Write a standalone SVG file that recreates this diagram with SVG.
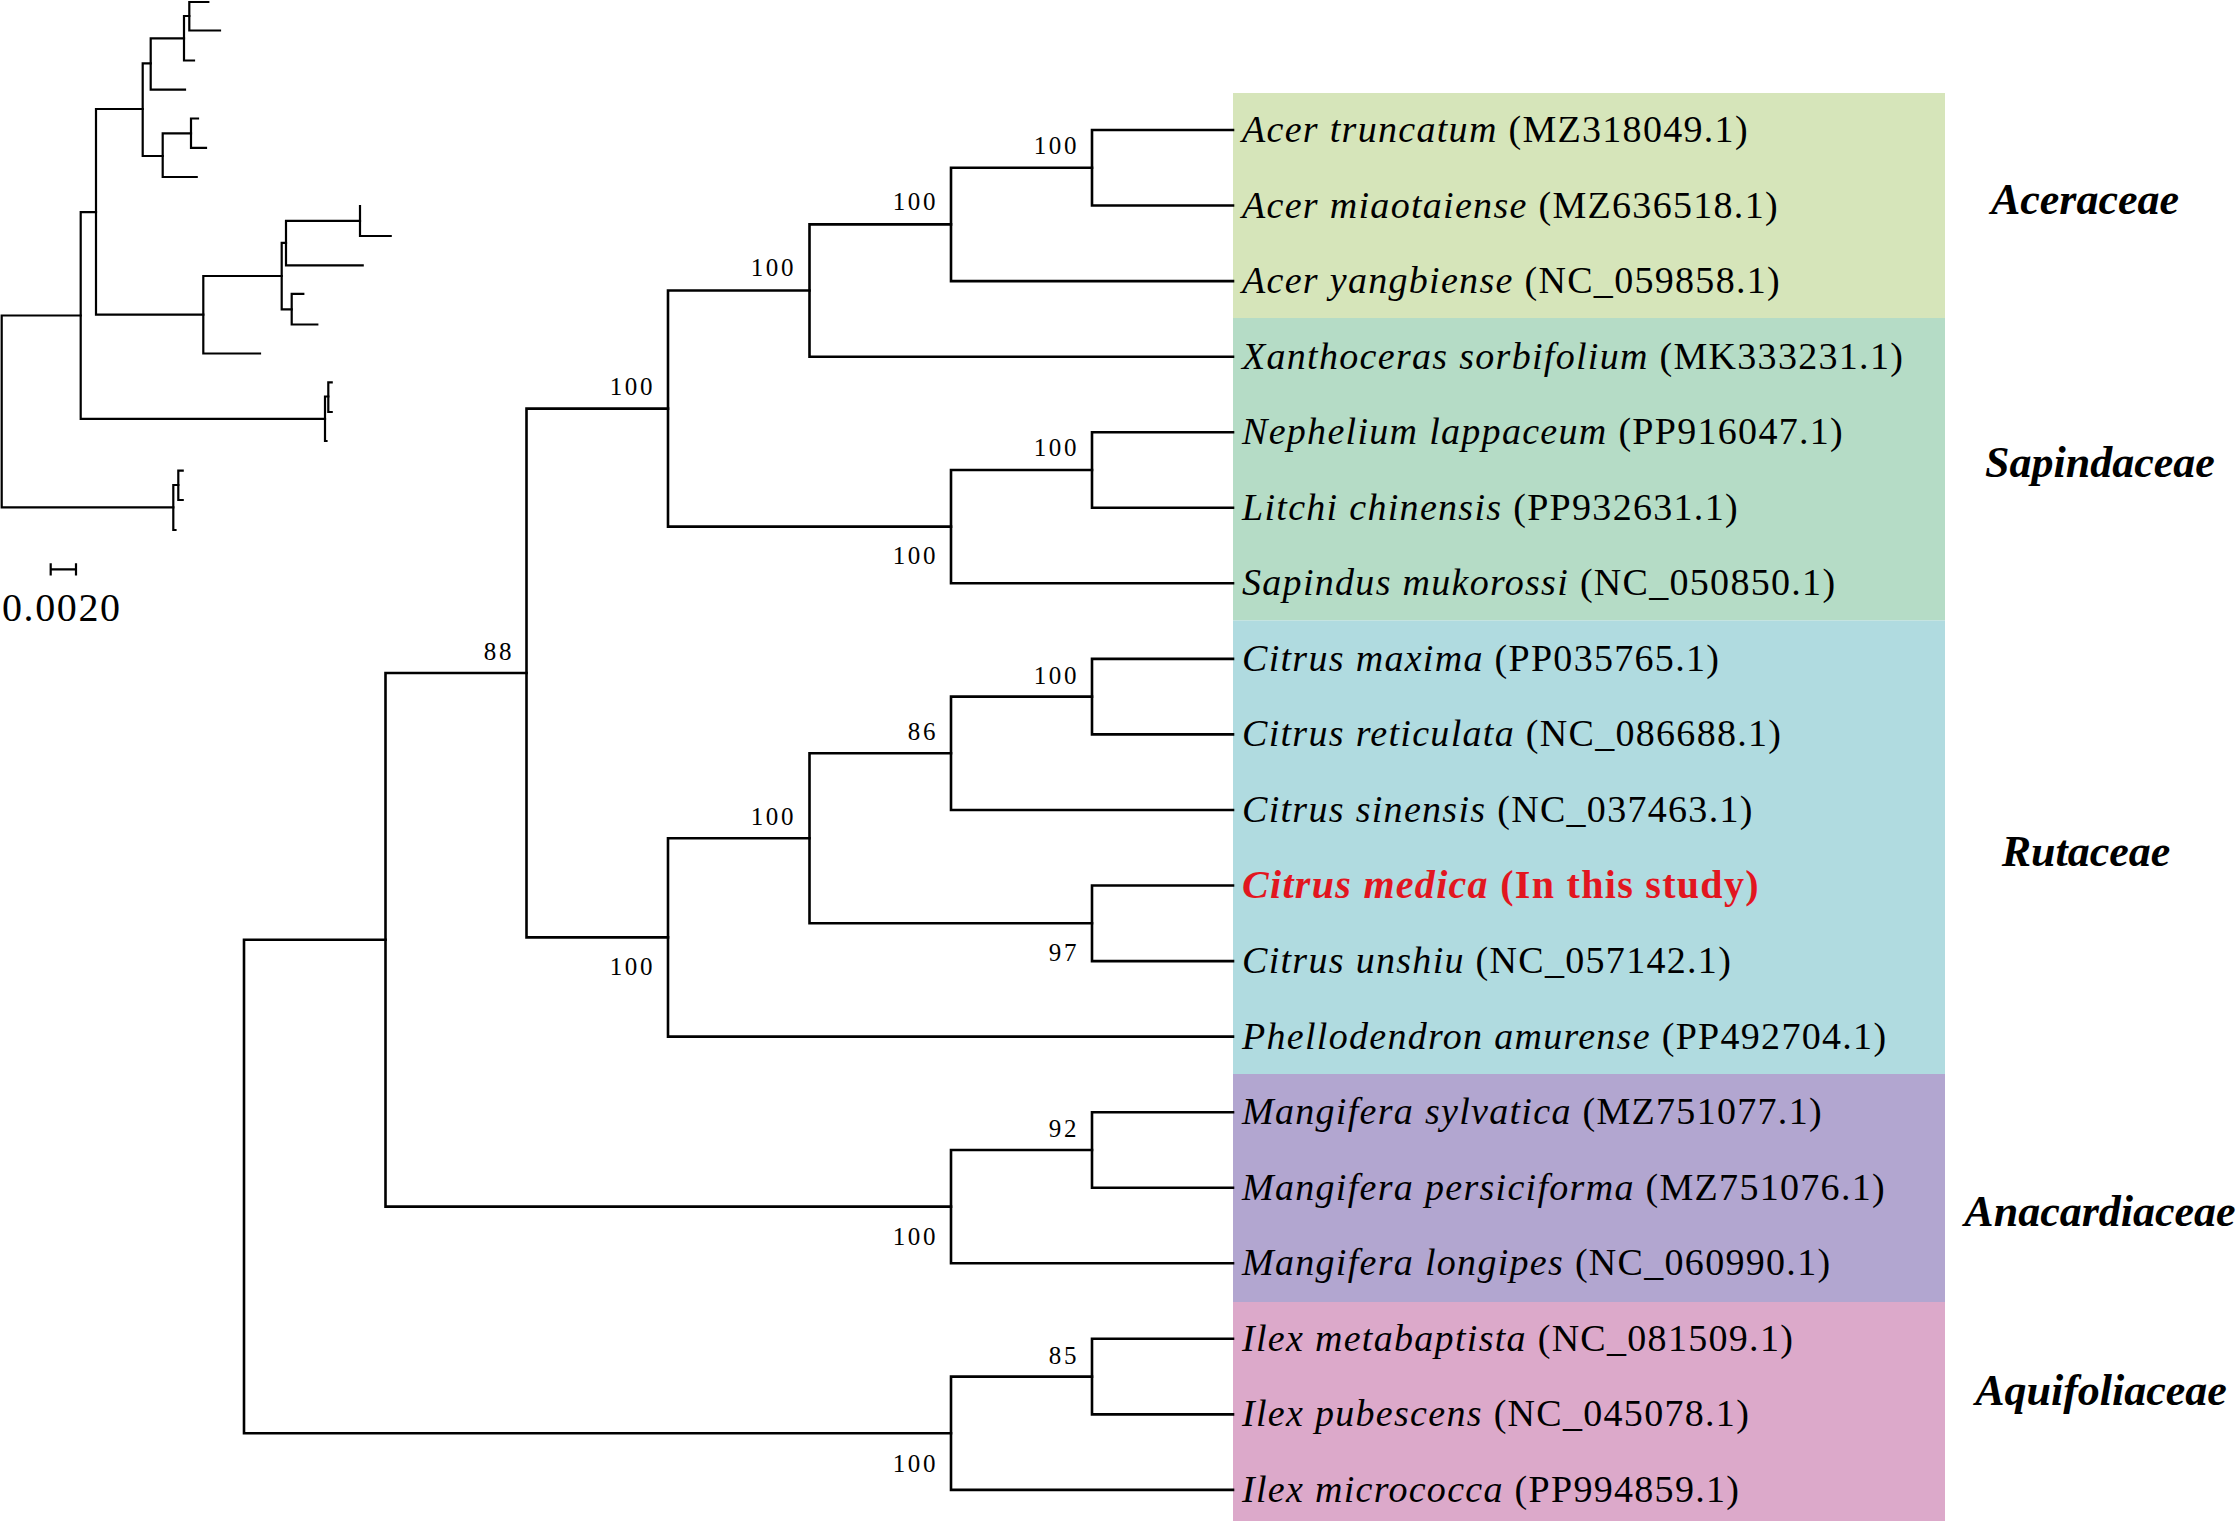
<svg xmlns="http://www.w3.org/2000/svg" width="2239" height="1523" viewBox="0 0 2239 1523">
<style>
.br{fill:none;stroke:#000;stroke-width:2.6;stroke-linecap:square}
.sm{fill:none;stroke:#000;stroke-width:2.2;stroke-linecap:square}
.bs{font-family:"Liberation Serif","Times New Roman",serif;font-size:25px;letter-spacing:2.6px;text-anchor:end;fill:#000}
.lf{font-family:"Liberation Serif","Times New Roman",serif;font-size:38px;letter-spacing:1.3px;fill:#000}
.it{font-style:italic}
.hl{font-size:40px;font-weight:bold;fill:#e2161f}
.fam{font-family:"Liberation Serif","Times New Roman",serif;font-size:44px;font-weight:bold;font-style:italic;text-anchor:middle;fill:#000}
.sc{font-family:"Liberation Serif","Times New Roman",serif;font-size:40px;letter-spacing:1.6px;fill:#000}
</style>
<rect width="2239" height="1523" fill="#fff"/>
<g id="families">
<rect id="bg-aceraceae" x="1233" y="93" width="712" height="225" fill="#d6e5ba"/>
<rect id="bg-sapindaceae" x="1233" y="318" width="712" height="302.5" fill="#b5dcc6"/>
<rect id="bg-rutaceae" x="1233" y="620.5" width="712" height="453.5" fill="#b0dbe0"/>
<rect id="bg-anacardiaceae" x="1233" y="1074" width="712" height="228" fill="#b2a6d0"/>
<rect id="bg-aquifoliaceae" x="1233" y="1302" width="712" height="219" fill="#dca9ca"/>
<text class="fam" x="2085" y="214">Aceraceae</text>
<text class="fam" x="2100" y="477">Sapindaceae</text>
<text class="fam" x="2086" y="866">Rutaceae</text>
<text class="fam" x="2100" y="1226">Anacardiaceae</text>
<text class="fam" x="2101" y="1405">Aquifoliaceae</text>
</g>
<g id="unscaled-tree">
<path class="sm" d="M80.7 315.5 H1.7 V507.3 H173.3"/>
<path class="sm" d="M96 212.2 H80.7 V418.8 H325"/>
<path class="sm" d="M142.7 109 H96 V314.7 H203.3"/>
<path class="sm" d="M150.7 63.3 H142.7 V156 H162.7"/>
<path class="sm" d="M184 38.3 H150.7 V89.7 H185"/>
<path class="sm" d="M189.3 16 H184 V60.5 H194"/>
<path class="sm" d="M208.3 2 H189.3 V30.5 H220"/>
<path class="sm" d="M191 133.3 H162.7 V177 H196.7"/>
<path class="sm" d="M198 118.5 H191 V147.8 H206"/>
<path class="sm" d="M281.7 276 H203.3 V353.5 H260"/>
<path class="sm" d="M286 242.9 H281.7 V309.4 H291.7"/>
<path class="sm" d="M360 220.8 H286 V265.3 H362.7"/>
<path class="sm" d="M360 206 V236 H390.7"/>
<path class="sm" d="M303.3 293.9 H291.7 V324.5 H317.3"/>
<path class="sm" d="M328.3 396.5 H325 V441 H326.5"/>
<path class="sm" d="M331.7 382.4 H328.3 V412 H331.7"/>
<path class="sm" d="M178.3 485 H173.3 V530 H175.5"/>
<path class="sm" d="M182.7 470.6 H178.3 V500 H182.7"/>
</g>
<g id="scale-bar">
<path class="sm" d="M50.7 569.3 H76 M50.7 564.3 V574.3 M76 564.3 V574.3"/>
<text class="sc" x="2" y="621">0.0020</text>
</g>
<g id="connectors">
<path class="br" d="M1233 130 H1092 V205.5 H1233"/>
<path class="br" d="M1092 167.8 H951 V281.1 H1233"/>
<path class="br" d="M951 224.4 H809.5 V356.7 H1233"/>
<path class="br" d="M1233 432.2 H1092 V507.8 H1233"/>
<path class="br" d="M1092 470 H951 V583.3 H1233"/>
<path class="br" d="M809.5 290.5 H668 V526.6 H951"/>
<path class="br" d="M1233 658.9 H1092 V734.4 H1233"/>
<path class="br" d="M1092 696.6 H951 V810 H1233"/>
<path class="br" d="M1233 885.5 H1092 V961.1 H1233"/>
<path class="br" d="M951 753.3 H809.5 V923.3 H1092"/>
<path class="br" d="M809.5 838.3 H668 V1036.6 H1233"/>
<path class="br" d="M668 408.6 H526.5 V937.4 H668"/>
<path class="br" d="M1233 1112.2 H1092 V1187.7 H1233"/>
<path class="br" d="M1092 1150 H951 V1263.3 H1233"/>
<path class="br" d="M526.5 673 H385.5 V1206.6 H951"/>
<path class="br" d="M1233 1338.8 H1092 V1414.4 H1233"/>
<path class="br" d="M1092 1376.6 H951 V1489.9 H1233"/>
<path class="br" d="M385.5 939.8 H244 V1433.3 H951"/>
</g>
<g id="support-values">
<text class="bs" x="1079" y="154">100</text>
<text class="bs" x="938" y="210">100</text>
<text class="bs" x="796" y="276">100</text>
<text class="bs" x="655" y="395">100</text>
<text class="bs" x="1079" y="456">100</text>
<text class="bs" x="938" y="564">100</text>
<text class="bs" x="514" y="660">88</text>
<text class="bs" x="1079" y="684">100</text>
<text class="bs" x="938" y="740">86</text>
<text class="bs" x="796" y="825">100</text>
<text class="bs" x="1079" y="961">97</text>
<text class="bs" x="655" y="975">100</text>
<text class="bs" x="1079" y="1137">92</text>
<text class="bs" x="938" y="1245">100</text>
<text class="bs" x="1079" y="1364">85</text>
<text class="bs" x="938" y="1472">100</text>
</g>
<g id="taxa">
<text id="t0" class="lf" x="1242" y="142"><tspan class="it">Acer truncatum</tspan> (MZ318049.1)</text>
<text id="t1" class="lf" x="1242" y="217.5"><tspan class="it">Acer miaotaiense</tspan> (MZ636518.1)</text>
<text id="t2" class="lf" x="1242" y="293"><tspan class="it">Acer yangbiense</tspan> (NC_059858.1)</text>
<text id="t3" class="lf" x="1242" y="368.7"><tspan class="it">Xanthoceras sorbifolium</tspan> (MK333231.1)</text>
<text id="t4" class="lf" x="1242" y="444.2"><tspan class="it">Nephelium lappaceum</tspan> (PP916047.1)</text>
<text id="t5" class="lf" x="1242" y="519.8"><tspan class="it">Litchi chinensis</tspan> (PP932631.1)</text>
<text id="t6" class="lf" x="1242" y="595.3"><tspan class="it">Sapindus mukorossi</tspan> (NC_050850.1)</text>
<text id="t7" class="lf" x="1242" y="670.9"><tspan class="it">Citrus maxima</tspan> (PP035765.1)</text>
<text id="t8" class="lf" x="1242" y="746.4"><tspan class="it">Citrus reticulata</tspan> (NC_086688.1)</text>
<text id="t9" class="lf" x="1242" y="822"><tspan class="it">Citrus sinensis</tspan> (NC_037463.1)</text>
<text id="t10" class="lf hl" x="1242" y="898"><tspan class="it">Citrus medica</tspan> (In this study)</text>
<text id="t11" class="lf" x="1242" y="973.1"><tspan class="it">Citrus unshiu</tspan> (NC_057142.1)</text>
<text id="t12" class="lf" x="1242" y="1048.6"><tspan class="it">Phellodendron amurense</tspan> (PP492704.1)</text>
<text id="t13" class="lf" x="1242" y="1124.2"><tspan class="it">Mangifera sylvatica</tspan> (MZ751077.1)</text>
<text id="t14" class="lf" x="1242" y="1199.7"><tspan class="it">Mangifera persiciforma</tspan> (MZ751076.1)</text>
<text id="t15" class="lf" x="1242" y="1275.3"><tspan class="it">Mangifera longipes</tspan> (NC_060990.1)</text>
<text id="t16" class="lf" x="1242" y="1350.8"><tspan class="it">Ilex metabaptista</tspan> (NC_081509.1)</text>
<text id="t17" class="lf" x="1242" y="1426.4"><tspan class="it">Ilex pubescens</tspan> (NC_045078.1)</text>
<text id="t18" class="lf" x="1242" y="1501.9"><tspan class="it">Ilex micrococca</tspan> (PP994859.1)</text>
</g>
</svg>
